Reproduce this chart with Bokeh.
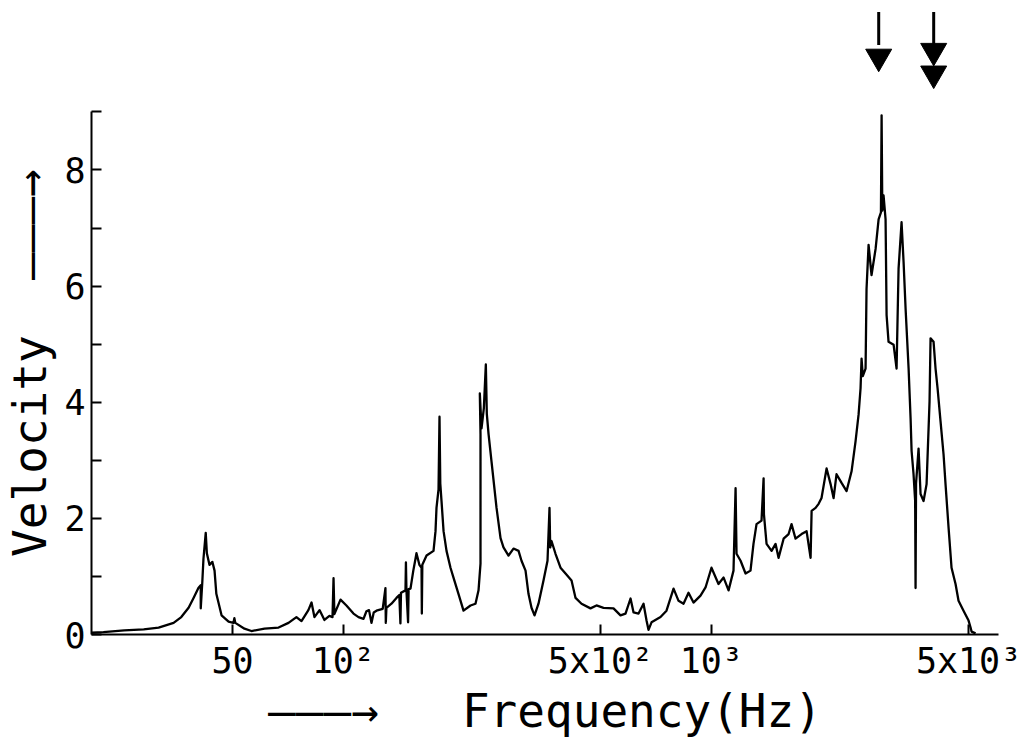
from bokeh.plotting import figure
from bokeh.models import Range1d, FixedTicker, ColumnDataSource
from bokeh.embed import file_html
from bokeh.resources import INLINE

# ---- data: (frequency Hz, velocity) ----
band_low = [
    (20.7, 0.03), (22.3, 0.04), (25.4, 0.07), (28.7, 0.09), (31.5, 0.12), (34.6, 0.2),
    (36.3, 0.3), (38.0, 0.46), (39.2, 0.63), (40.4, 0.8), (41.0, 0.85), (41.0, 0.45),
    (41.4, 0.9), (41.7, 1.3), (42.3, 1.75), (42.6, 1.4), (43.3, 1.2), (44.1, 1.25),
    (44.7, 1.1), (45.2, 0.7), (46.7, 0.33), (48.8, 0.22), (50.3, 0.2), (50.6, 0.28),
    (50.9, 0.2), (53.9, 0.1), (56.3, 0.06), (61.1, 0.1), (66.7, 0.12), (71.0, 0.2),
    (74.6, 0.3), (77.0, 0.23), (80.4, 0.42), (82.0, 0.55), (83.5, 0.3), (86.2, 0.42),
    (88.9, 0.25), (91.7, 0.32), (93.5, 0.3), (94.1, 0.97), (94.6, 0.35), (98.3, 0.6),
    (102.0, 0.5), (106.6, 0.36), (110.0, 0.3), (113.5, 0.27), (115.6, 0.4), (117.5, 0.42),
    (119.3, 0.2), (121.0, 0.38), (123.1, 0.41), (128.0, 0.44), (130.2, 0.8), (130.5, 0.2),
    (131.0, 0.46), (135.2, 0.53), (139.5, 0.63), (142.0, 0.68), (143.0, 0.19), (143.5, 0.72),
    (147.6, 0.76), (148.0, 1.24), (148.5, 0.75), (150.0, 0.21), (150.5, 0.78), (152.3, 0.79),
    (155.0, 1.1), (157.1, 1.3), (158.1, 1.4), (161.0, 1.2), (163.2, 1.15), (163.5, 0.36),
    (164.0, 1.2), (168.4, 1.36), (175.9, 1.44), (178.1, 1.78), (179.2, 2.18), (181.5, 2.5),
    (182.6, 3.75), (183.5, 2.6), (184.9, 2.3), (187.3, 1.78), (190.8, 1.44), (195.6, 1.15),
    (199.3, 0.98), (205.6, 0.7), (212.2, 0.41), (221.7, 0.5), (228.7, 0.53), (233.1, 0.76),
    (236.0, 1.22), (236.0, 3.45), (235.0, 4.15), (237.5, 3.55), (241.0, 3.9), (244.0, 4.65),
    (245.5, 3.8), (248.2, 3.45), (252.8, 2.98), (260.9, 2.18), (267.5, 1.66),
]

band_mid = [
    (272.5, 1.5), (281.2, 1.36), (290.1, 1.48), (299.4, 1.44), (305.0, 1.27), (312.8, 1.1),
    (318.6, 0.7), (324.7, 0.46), (330.9, 0.33), (339.2, 0.53), (350.0, 0.93), (358.9, 1.27),
    (363.4, 2.18), (365.0, 1.5), (368.0, 1.61), (377.3, 1.39), (389.3, 1.15), (401.7, 1.05),
    (417.1, 0.93), (427.7, 0.63), (444.0, 0.53), (469.6, 0.45), (487.6, 0.5), (509.5, 0.46),
    (542.4, 0.45), (566.6, 0.33), (584.7, 0.36), (603.3, 0.62), (614.8, 0.38), (634.3, 0.36),
    (654.4, 0.53), (666.8, 0.24), (675.1, 0.08), (688.0, 0.21), (727.8, 0.3), (755.6, 0.41),
    (789.6, 0.79), (814.7, 0.58), (840.4, 0.53), (867.1, 0.72), (894.6, 0.55), (934.7, 0.67),
    (964.5, 0.81),
]

band_high = [
    (1001, 1.15), (1046, 0.87), (1080, 0.98), (1114, 0.76), (1149, 1.1), (1164, 2.52),
    (1171, 1.39), (1201, 1.27), (1239, 1.05), (1278, 1.1), (1302, 1.56), (1327, 1.9),
    (1369, 1.96), (1387, 2.69), (1390, 2.07), (1413, 1.56), (1458, 1.44), (1495, 1.56),
    (1523, 1.32), (1572, 1.65), (1622, 1.73), (1652, 1.9), (1694, 1.65), (1759, 1.73),
    (1815, 1.78), (1861, 1.32), (1873, 2.13), (1920, 2.18), (1957, 2.25), (1993, 2.35),
    (2057, 2.86), (2109, 2.59), (2149, 2.35), (2189, 2.76), (2259, 2.61), (2331, 2.47),
    (2405, 2.81), (2466, 3.33), (2513, 3.79), (2544, 4.24), (2560, 4.75), (2580, 4.45),
    (2625, 4.58), (2641, 5.95), (2675, 6.71), (2725, 6.19), (2795, 6.64), (2848, 7.15),
    (2890, 7.27), (2902, 8.94), (2915, 7.3), (2938, 7.56), (2975, 7.15), (2994, 5.5),
    (3031, 5.04), (3128, 4.99), (3187, 4.58), (3227, 6.3), (3288, 7.1), (3300, 6.9),
    (3330, 6.41), (3372, 5.61), (3436, 4.58), (3479, 3.72), (3501, 3.16), (3544, 2.76),
    (3580, 2.3), (3589, 0.8), (3600, 2.6), (3657, 3.2), (3703, 2.42), (3773, 2.3),
    (3845, 2.59), (3917, 4.01), (3942, 5.1), (4017, 5.04), (4067, 4.58), (4119, 4.24),
    (4196, 3.67), (4276, 3.1), (4329, 2.59), (4412, 1.84), (4495, 1.15), (4609, 0.87),
    (4696, 0.58), (4845, 0.41), (5000, 0.24), (5063, 0.12), (5095, 0.05), (5224, 0.02),
]

x_ticks = [50, 100, 500, 1000, 5000]
x_tick_labels = ["50", "10²", "5x10²", "10³", "5x10³"]
y_ticks = [0, 1, 2, 3, 4, 5, 6, 7, 8, 9]
y_tick_labels = ["0", "", "2", "", "4", "", "6", "", "8", ""]

# marked resonances (arrows above the plot)
arrow_freqs = [2850, 4020]
arrow_heads_f = [2850, 4020, 4020]
arrow_heads_v = [9.95, 10.05, 9.66]

FONT = "DejaVu Sans Mono"
NB = "\u00a0"

pts = band_low + band_mid + band_high
src = ColumnDataSource(data=dict(f=[a for a, _ in pts], v=[b for _, b in pts]))

p = figure(x_axis_type="log", x_range=Range1d(20.7, 6030), y_range=Range1d(0, 10.78),
           frame_width=907, frame_height=626,
           min_border_left=80, min_border_right=30, min_border_top=8, min_border_bottom=0,
           output_backend="svg", toolbar_location=None)
p.outline_line_color = None
p.xgrid.visible = False
p.ygrid.visible = False

p.line("f", "v", source=src, line_color="black", line_width=2.3, line_join="round")

# arrows
p.segment(x0=arrow_freqs, y0=[10.72, 10.72], x1=arrow_freqs, y1=[10.15, 10.15],
          line_color="black", line_width=3)
p.scatter(x=arrow_heads_f, y=arrow_heads_v, marker="inverted_triangle", size=26,
          color="black")

# axes
xa = p.xaxis[0]
xa.ticker = FixedTicker(ticks=x_ticks)
xa.major_label_overrides = {t: l for t, l in zip(x_ticks, x_tick_labels)}
xa.major_tick_in = 10
xa.major_tick_out = 0
xa.minor_tick_line_color = None
xa.axis_line_width = 2
xa.major_tick_line_width = 2
xa.axis_line_color = "black"
xa.major_tick_line_color = "black"
xa.major_label_text_font = FONT
xa.major_label_text_font_size = "35px"
xa.major_label_text_color = "black"
xa.major_label_standoff = 6
xa.axis_label = "———→" + NB * 3 + "Frequency(Hz)"
xa.axis_label_text_font = FONT
xa.axis_label_text_font_size = "46px"
xa.axis_label_text_font_style = "normal"
xa.axis_label_text_color = "black"
xa.axis_label_standoff = 0

ya = p.yaxis[0]
ya.ticker = FixedTicker(ticks=y_ticks)
ya.major_label_overrides = {t: l for t, l in zip(y_ticks, y_tick_labels)}
ya.bounds = (0, 9)
ya.major_tick_in = 10
ya.major_tick_out = 0
ya.minor_tick_line_color = None
ya.axis_line_width = 2
ya.major_tick_line_width = 2
ya.axis_line_color = "black"
ya.major_tick_line_color = "black"
ya.major_label_text_font = FONT
ya.major_label_text_font_size = "35px"
ya.major_label_text_color = "black"
ya.major_label_standoff = 6
ya.axis_label = "Velocity" + NB * 2 + "———→" + NB * 3
ya.axis_label_text_font = FONT
ya.axis_label_text_font_size = "46px"
ya.axis_label_text_font_style = "normal"
ya.axis_label_text_color = "black"
ya.axis_label_standoff = 4

open("out.html", "w").write(file_html(p, INLINE))
